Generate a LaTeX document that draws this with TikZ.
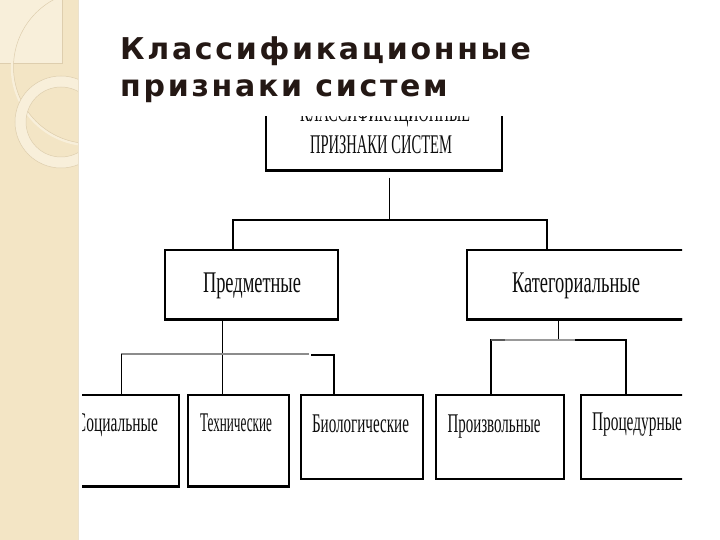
\documentclass[tikz,border=0pt]{standalone}
\usepackage{fontspec}
\usepackage{graphicx}
\newfontfamily\titlefont[LetterSpace=9]{DejaVu Sans}
\newfontfamily\boxfont{Liberation Serif}
\newcommand\fitw[3]{{\boxfont\fontsize{#2}{#2}\selectfont\resizebox{#1}{\height}{#3}}}
\definecolor{stripe}{RGB}{243,229,197}
\definecolor{stripelight}{RGB}{248,239,218}
\definecolor{stripedark}{RGB}{222,206,174}
\definecolor{titlecol}{RGB}{36,24,20}
\definecolor{linegray}{RGB}{140,140,140}
\tikzset{
  box/.style={draw=black, line width=1.4pt, fill=white, inner sep=0pt},
  lbl/.style={inner sep=0pt, anchor=base, text=black!95},
  conn/.style={draw=black, line width=0.8pt},
  grayconn/.style={draw=linegray, line width=2.2pt},
  heavy/.style={draw=black, line width=2.8pt},
}
\begin{document}
\begin{tikzpicture}[x=1pt,y=-1pt]
\useasboundingbox (0,0) rectangle (720,540);
\fill[white] (0,0) rectangle (720,540);
% left decorative stripe
\fill[stripe] (0,0) rectangle (78,540);
\begin{scope}
  \clip (0,0) rectangle (78,540);
  \fill[stripelight] (0,0) rectangle (62,63);
  \draw[stripedark, line width=0.7pt] (0,63) -- (62,63) -- (62,0);
  \draw[stripelight, line width=2.5pt] (90,67) circle (78);
  \draw[stripedark, line width=0.5pt] (90,67) circle (76.5);
  \fill[stripelight, even odd rule] (61,122) circle (46) (61,122) circle (35);
  \draw[stripedark, line width=0.5pt] (61,122) circle (35);
  \draw[stripedark, line width=0.5pt] (61,122) circle (46);
\end{scope}
\draw[stripedark!60, line width=0.6pt] (78,0) -- (78,540);
% title
\node[inner sep=0pt, anchor=base west, text=titlecol] (t1) at (120,60)
  {\titlefont\bfseries\fontsize{30}{30}\selectfont Классификационные};
\node[inner sep=0pt, anchor=base west, text=titlecol] (t2) at (120,97)
  {\titlefont\bfseries\fontsize{30}{30}\selectfont признаки систем};
% diagram (cropped picture)
\begin{scope}
  \clip (82,117) rectangle (682,495);
  % boxes
  \node[box, minimum width=236pt, minimum height=70pt] (top) at (384,135) {};
  \node[box, minimum width=173pt, minimum height=69pt] (predm) at (251.5,284.5) {};
  \node[box, minimum width=219pt, minimum height=69pt] (kat) at (576.5,284.5) {};
  \node[box, minimum width=103pt, minimum height=91pt] (soc) at (127.5,440.5) {};
  \node[box, minimum width=101pt, minimum height=91pt] (tech) at (238.5,440.5) {};
  \node[box, minimum width=122pt, minimum height=84pt] (bio) at (362,437) {};
  \node[box, minimum width=128pt, minimum height=84pt] (proizv) at (500,437) {};
  \node[box, minimum width=112pt, minimum height=84pt] (proc) at (637,437) {};
  % heavier bottom edges
  \draw[heavy] (top.south west) -- (top.south east);
  \draw[heavy] (predm.south west) -- (predm.south east);
  \draw[heavy] (kat.south west) -- (kat.south east);
  \draw[heavy] (soc.south west) -- (soc.south east);
  \draw[heavy] (tech.south west) -- (tech.south east);
  % texts
  \node[lbl] (topT1) at (385,122) {\fitw{170pt}{26}{КЛАССИФИКАЦИОННЫЕ}};
  \node[lbl] (topT2) at (381,154) {\fitw{142pt}{27}{ПРИЗНАКИ СИСТЕМ}};
  \node[lbl] (predmT) at (252,292) {\fitw{98pt}{30}{Предметные}};
  \node[lbl] (katT) at (576,292) {\fitw{128pt}{30}{Категориальные}};
  \node[lbl] (socT) at (117,431) {\fitw{82pt}{27}{Социальные}};
  \node[lbl] (techT) at (236,431) {\fitw{72pt}{27}{Технические}};
  \node[lbl] (bioT) at (360.5,432) {\fitw{97pt}{27}{Биологические}};
  \node[lbl] (proizvT) at (494,432) {\fitw{93pt}{27}{Произвольные}};
  \node[lbl] (procT) at (637,430) {\fitw{90pt}{27}{Процедурные}};
  % junction coordinates
  \coordinate (j1) at (389,220);
  \coordinate (hL) at (233,220);
  \coordinate (hR) at (547,220);
  \coordinate (v1) at (222,354);
  \coordinate (b1) at (121,354);
  \coordinate (b2) at (309,354);
  \coordinate (b3) at (311,355);
  \coordinate (b4) at (334,355);
  \coordinate (c1) at (491,340);
  \coordinate (c2) at (626,340);
  \coordinate (c3) at (558,340);
  \coordinate (g1) at (505,340);
  \coordinate (g2) at (575,340);
  % connectors
  \draw[conn, shorten <=7pt] (top.south -| j1) -- (j1);
  \draw[conn, line width=1.1pt] (predm.north -| hL) -- (hL) -- (hR) -- (kat.north -| hR);
  \draw[conn] (predm.south -| v1) -- (tech.north -| v1);
  \draw[grayconn] (b1) -- (b2);
  \draw[conn] (b1) -- (soc.north -| b1);
  \draw[conn, line width=1.1pt] (b3) -- (b4) -- (bio.north -| b4);
  \draw[conn] (kat.south -| c3) -- (c3);
  \draw[conn, line width=1.1pt] (proizv.north -| c1) -- (c1) -- (c2) -- (proc.north -| c2);
  \draw[draw=black!65, line width=2.4pt] (c1) -- (g1);
  \draw[draw=black!40, line width=2.2pt] (g1) -- (g2);
\end{scope}
\end{tikzpicture}
\end{document}
